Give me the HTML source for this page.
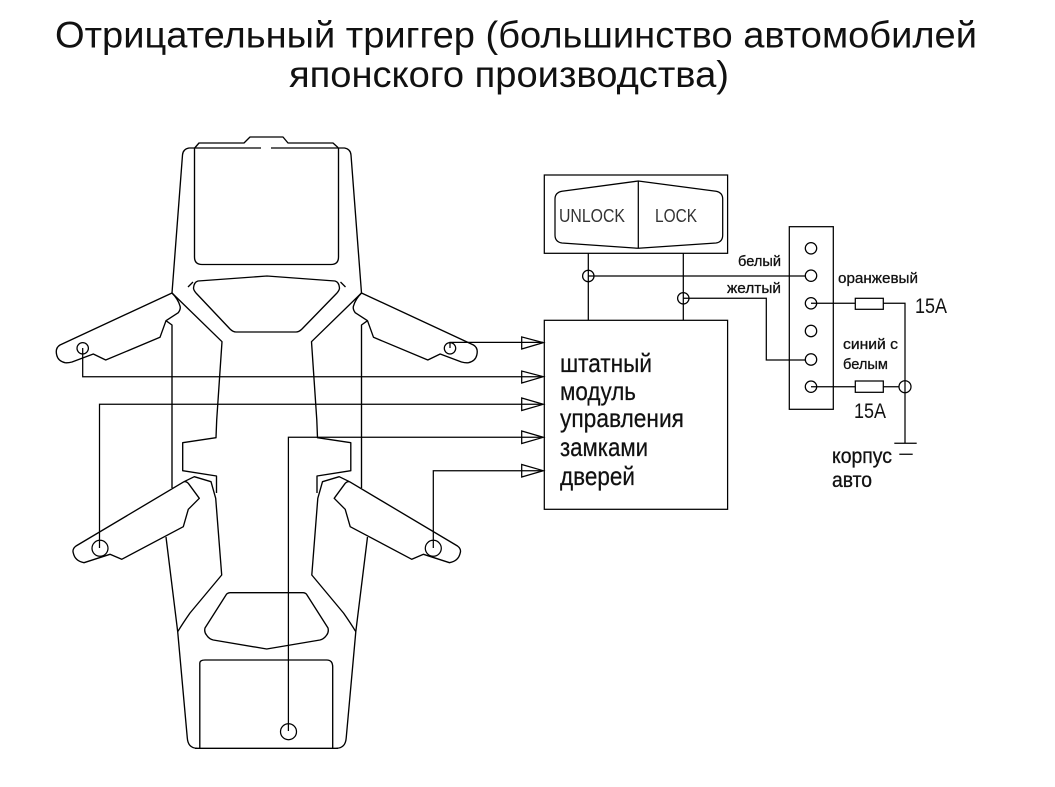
<!DOCTYPE html>
<html><head><meta charset="utf-8"><style>
html,body{margin:0;padding:0;background:#fff;width:1055px;height:787px;overflow:hidden}
svg{display:block}
.l{fill:none;stroke:#000;stroke-width:1.35;stroke-linejoin:round}
.w{fill:none;stroke:#000;stroke-width:1.25}
text{font-family:"Liberation Sans",sans-serif;fill:#111}
.m{font-size:26px;stroke:#111;stroke-width:.25}
.s{font-size:15px;stroke:#111;stroke-width:.3}
.u{font-size:18px;fill:#333}
</style></head><body>
<svg width="1055" height="787" viewBox="0 0 1055 787" xmlns="http://www.w3.org/2000/svg">
<text x="55" y="47.5" font-size="37.5" textLength="922" lengthAdjust="spacingAndGlyphs">Отрицательный триггер (большинство автомобилей</text>
<text x="289" y="87" font-size="37.5" textLength="440" lengthAdjust="spacingAndGlyphs">японского производства)</text>

<g class="l">
<path d="M194.7 148L199 143H244L250 137H283L288 143H333L338.5 148"/>
<path d="M194.7 148H261M271 148H338.5"/>
<path d="M194.5 148V257Q194.5 264.5 202 264.5H331Q338.5 264.5 338.5 257V148"/>
<path d="M198 281L267 276L335 281Q339 282 339.5 288Q339.5 290 337 293L302 329Q299 332 296 332H236Q233 332 230 329L196 293Q193.5 290 193.5 288Q194 282 198 281Z"/>
<path d="M199.8 667V663Q200 660 205 660H326.7Q332.7 660 332.7 667V748.3"/>
<path d="M199.8 667V748.3"/>
<path d="M195 748.3H338"/>
<path d="M230 592.7H303.3Q306 593 307 595L328 628Q329 632 326.7 635Q324 639 320 640L266.7 649L213.3 640Q209 639 206.5 635Q204 632 205 628L226 595Q227 593 230 592.7Z"/>
<g id="h">
<path d="M194.7 148H189Q183 149 182.5 155L172 293"/>
<path d="M188 287L193 282M172 293L222 341.7L216.7 420L216 437.7L182.7 442.7V470.7L216.5 476V493"/>
<path d="M172 293L60 345Q55 348 56.7 355Q58 361 65 362.7Q68 363 72 362L93.3 354L105.7 360L160 337.3L166 320.7L178.3 312.7Q181 309 180 306Q178 299 172 293"/>
<path d="M166 320.7L172 325V488"/>
<path d="M184 481.7L76 546Q72 549 73.3 553Q75 561 84 562.7L110 554.3L121.7 559.3L183.3 526.7L188.3 509.3L199.3 498.3L188.3 483.3Q186 481 184 481.7"/>
<path d="M184 481.7L194.3 476.7L211 481.7L215.7 498.3L221.7 575L190 613Q183 623 177.7 631.7"/>
<path d="M166 537L177.7 631.7L187.3 738Q188 748 197 748.3"/>
</g>
<use href="#h" transform="translate(533.5 0) scale(-1 1)"/>
</g>

<g class="w">
<circle cx="82.7" cy="348.3" r="5.7"/><circle cx="450" cy="348.3" r="5.7"/>
<circle cx="100" cy="548.3" r="8"/><circle cx="433.3" cy="548.3" r="8"/><circle cx="288.5" cy="731.7" r="8"/>
<path d="M82.7 348V376.7H543M99.5 548V404.3H543M288.4 731V437.3H543M433.3 548V470.7H543M450 348V342.4H543"/>
<path d="M521.7 336.9V349L543.3 342.6ZM521.7 371V383L543.3 376.7ZM521.7 398V410.5L543.3 404.3ZM521.7 431V443.5L543.3 437.3ZM521.7 464.5V477L543.3 470.7Z"/>
<rect x="544.3" y="320.3" width="183.3" height="189"/>
<rect x="544.3" y="175" width="183.3" height="78.3"/>
<path d="M638.3 181V248.3M638.3 181L562 191.2Q555 192.5 555 199V235Q555 242 562 243L638.3 248.3L716 243Q722.7 242 722.7 235V199Q722.7 192.5 716 191.2Z"/>
<path d="M588.3 253.3V320.3M683.3 253.3V320.3M588.3 276H806M683.3 298.3H766.3V360H806"/>
<circle cx="588.3" cy="276" r="5.7"/><circle cx="683.3" cy="298.3" r="5.7"/>
<rect x="789.3" y="226.7" width="44" height="182.6"/>
<circle cx="811" cy="248.3" r="5.7"/><circle cx="811" cy="275.7" r="5.7"/><circle cx="811" cy="303.3" r="5.7"/><circle cx="811" cy="331" r="5.7"/><circle cx="811" cy="359.5" r="5.7"/><circle cx="811" cy="386.7" r="5.7"/>
<path d="M811 303.3H855.3M883.3 303.3H905V443.3M811 386.7H855.3M883.3 386.7H899M894.3 443.3H916.7M899.3 454.3H912.7"/>
<rect x="855.3" y="298.3" width="28" height="11"/><rect x="855.3" y="381" width="28" height="11.3"/>
<circle cx="905" cy="386.7" r="6"/>
</g>

<text class="u" x="559" y="222" textLength="66" lengthAdjust="spacingAndGlyphs">UNLOCK</text>
<text class="u" x="655" y="222" textLength="42" lengthAdjust="spacingAndGlyphs">LOCK</text>
<text class="m" x="560" y="372" textLength="92" lengthAdjust="spacingAndGlyphs">штатный</text>
<text class="m" x="560" y="400" textLength="76" lengthAdjust="spacingAndGlyphs">модуль</text>
<text class="m" x="560" y="427" textLength="124" lengthAdjust="spacingAndGlyphs">управления</text>
<text class="m" x="560" y="456" textLength="88" lengthAdjust="spacingAndGlyphs">замками</text>
<text class="m" x="560" y="485" textLength="75" lengthAdjust="spacingAndGlyphs">дверей</text>
<text class="s" x="738" y="266" textLength="43" lengthAdjust="spacingAndGlyphs">белый</text>
<text class="s" x="727" y="293" textLength="54" lengthAdjust="spacingAndGlyphs">желтый</text>
<text class="s" x="838" y="283" textLength="80" lengthAdjust="spacingAndGlyphs">оранжевый</text>
<text class="s" x="843" y="349" textLength="55" lengthAdjust="spacingAndGlyphs">синий с</text>
<text class="s" x="843" y="369" textLength="45" lengthAdjust="spacingAndGlyphs">белым</text>
<text x="915" y="313" font-size="21" textLength="32" lengthAdjust="spacingAndGlyphs">15А</text>
<text x="854" y="418" font-size="21" textLength="32" lengthAdjust="spacingAndGlyphs">15А</text>
<text x="832" y="463" font-size="21" stroke="#111" stroke-width=".3" textLength="60" lengthAdjust="spacingAndGlyphs">корпус</text>
<text x="832" y="487" font-size="21" stroke="#111" stroke-width=".3" textLength="40" lengthAdjust="spacingAndGlyphs">авто</text>
</svg>
</body></html>
